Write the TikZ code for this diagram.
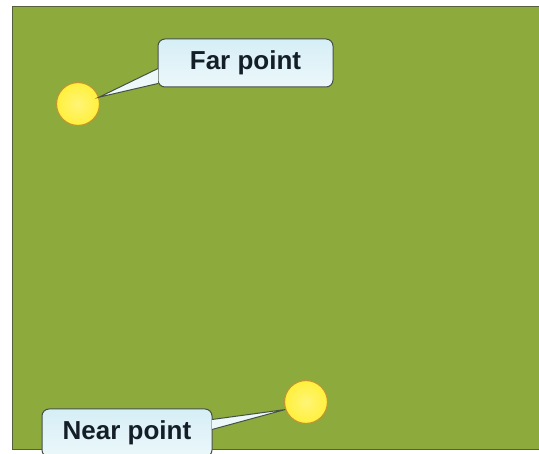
\documentclass[tikz,border=0pt]{standalone}
\usepackage{fontspec}
\setmainfont{Liberation Sans}
\usetikzlibrary{calc}
\definecolor{field}{RGB}{141,170,60}
\definecolor{fieldedge}{RGB}{85,95,60}
\definecolor{boxtop}{RGB}{214,238,246}
\definecolor{boxbot}{RGB}{236,248,250}
\definecolor{boxline}{RGB}{70,80,70}
\definecolor{dotfill}{RGB}{255,240,60}
\definecolor{dotline}{RGB}{190,150,50}
\definecolor{txt}{RGB}{20,30,40}
\tikzset{
  calloutbox/.style={rounded corners=7pt, draw=boxline, line width=1pt,
    top color=boxtop, bottom color=boxbot, text=txt,
    font=\fontsize{26}{29}\selectfont\bfseries, inner sep=0pt},
  dot/.style={circle, draw=dotline, line width=1.2pt, inner color=dotfill!70!white,
    outer color=dotfill, minimum size=43pt, inner sep=0pt},
  pointerfill/.style={fill=boxbot},
  pointerline/.style={draw=boxline, line width=1pt}
}
\begin{document}
\begin{tikzpicture}[x=1pt,y=-1pt]
\useasboundingbox (0,0) rectangle (539,454);
\clip (0,0) rectangle (539,454);
\fill[white] (0,0) rectangle (539,454);
\fill[field] (12,7) rectangle (545,450);
\draw[fieldedge, line width=1pt] (545,7) -- (12,7) -- (12,450) -- (545,450);
% far point
\node[dot] (fardot) at (78,104) {};
\node[calloutbox, minimum width=175pt, minimum height=48pt] (far) at (245.5,63) {Far point};
\coordinate (fartip) at (fardot.18);
\coordinate (farA) at ($(far.south west)+(0.5,-4)$);
\coordinate (farB) at ($(far.south west)+(0.5,-19)$);
\fill[pointerfill] (farA) -- (fartip) -- (farB) -- cycle;
\draw[pointerline] (farA) -- (fartip) -- (farB);
% near point
\node[dot] (neardot) at (306,402) {};
\node[calloutbox, minimum width=170pt, minimum height=48pt] (near) at (127,433) {Near point};
\coordinate (neartip) at (neardot.200);
\coordinate (nearA) at ($(near.north east)+(-0.5,11)$);
\coordinate (nearB) at ($(near.north east)+(-0.5,21)$);
\fill[pointerfill] (nearA) -- (neartip) -- (nearB) -- cycle;
\draw[pointerline] (nearA) -- (neartip) -- (nearB);
\end{tikzpicture}
\end{document}
